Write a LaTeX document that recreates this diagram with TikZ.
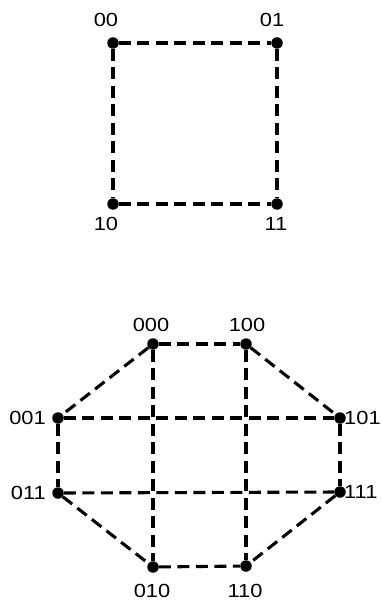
\documentclass[tikz,border=0pt]{standalone}
\usepackage{fontspec}
\newfontfamily\lblfont[FakeStretch=1.15]{Liberation Sans}
\begin{document}
\begin{tikzpicture}[x=1pt,y=-1pt,
  vtx/.style={circle,fill=black,inner sep=0pt,minimum size=11.5pt},
  lbl/.style={font=\lblfont\fontsize{19}{19}\selectfont,inner sep=0pt},
  edge/.style={line width=3.1pt,dash pattern=on 12pt off 6.5pt}]
\useasboundingbox (0,0) rectangle (381,604);
% two-variable square
\node[vtx] (a00) at (113,43) {};
\node[vtx] (a01) at (277,43) {};
\node[vtx] (a10) at (113,204) {};
\node[vtx] (a11) at (277,204) {};
\node[lbl] (l00) at (106,20) {00};
\node[lbl] (l01) at (272,20) {01};
\node[lbl] (l10) at (106,224) {10};
\node[lbl] (l11) at (276,224) {11};
\draw[edge] (a00) -- (a01);
\draw[edge] (a00) -- (a10);
\draw[edge] (a01) -- (a11);
\draw[edge] (a10) -- (a11);
% three-variable octagon
\node[vtx] (b000) at (153,344) {};
\node[vtx] (b100) at (246,344) {};
\node[vtx] (b001) at (58,418) {};
\node[vtx] (b101) at (340,418) {};
\node[vtx] (b011) at (58,493) {};
\node[vtx] (b111) at (340,492) {};
\node[vtx] (b010) at (153,567) {};
\node[vtx] (b110) at (246,566) {};
\node[lbl] (m000) at (151,325) {000};
\node[lbl] (m100) at (247,325) {100};
\node[lbl,anchor=east] (m001) at (46,418) {001};
\node[lbl,anchor=west] (m101) at (344,418) {101};
\node[lbl,anchor=east] (m011) at (46,493) {011};
\node[lbl,anchor=west] (m111) at (344,492) {111};
\node[lbl] (m010) at (152,591) {010};
\node[lbl] (m110) at (245,591) {110};
\draw[edge] (b000) -- (b100);
\draw[edge] (b000) -- (b001);
\draw[edge] (b100) -- (b101);
\draw[edge] (b001) -- (b101);
\draw[edge] (b001) -- (b011);
\draw[edge] (b101) -- (b111);
\draw[edge] (b011) -- (b111);
\draw[edge] (b011) -- (b010);
\draw[edge] (b111) -- (b110);
\draw[edge] (b010) -- (b110);
\draw[edge] (b000) -- (b010);
\draw[edge] (b100) -- (b110);
\end{tikzpicture}
\end{document}
